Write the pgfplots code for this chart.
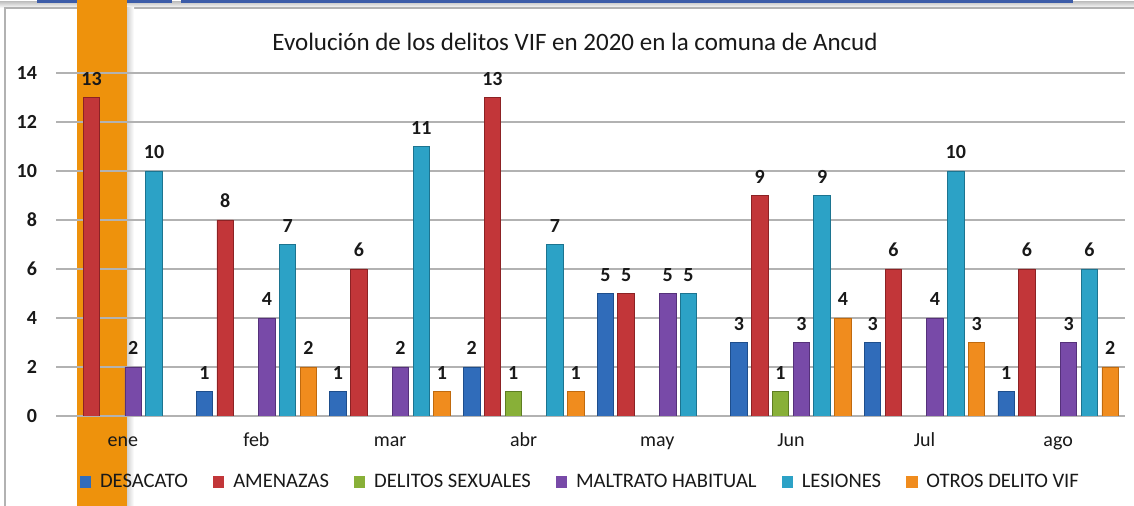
\documentclass[border=0pt]{standalone}
\usepackage{fontspec}
\setmainfont{Carlito}
\usepackage{pgfplots}
\pgfplotsset{compat=1.18}
\definecolor{desM}{RGB}{48,108,186}\definecolor{desE}{RGB}{30,78,140}
\definecolor{ameM}{RGB}{194,54,57}\definecolor{ameE}{RGB}{140,34,36}
\definecolor{dsM}{RGB}{136,176,56}\definecolor{dsE}{RGB}{94,126,34}
\definecolor{malM}{RGB}{120,74,168}\definecolor{malE}{RGB}{85,49,122}
\definecolor{lesM}{RGB}{44,162,198}\definecolor{lesE}{RGB}{28,116,144}
\definecolor{otrM}{RGB}{240,140,30}\definecolor{otrE}{RGB}{192,106,14}
\definecolor{band}{RGB}{238,146,12}
\definecolor{strip}{RGB}{60,92,168}
\pgfplotsset{
  mybar/.style n args={2}{draw=#2, line width=0.4pt, fill=#1,
    legend image code/.code={\fill[#1] (0pt,-2.6pt) rectangle (5.2pt,2.6pt);}},
}
\begin{document}
\begin{tikzpicture}
\path[use as bounding box] (0,0) rectangle (567pt,253pt);
\fill[white] (0,0) rectangle (567pt,253pt);
\shade[top color=gray!45, bottom color=white] (0,249pt) rectangle (567pt,252pt);
\draw[gray!60, line width=0.6pt] (2.5pt,-5pt) -- (2.5pt,249pt) -- (570pt,249pt);
\fill[strip] (18.5pt,251.5pt) rectangle (86pt,253pt);
\fill[strip] (90.5pt,251.5pt) rectangle (536.5pt,253pt);
\fill[band] (38.5pt,0) rectangle (63.5pt,253pt);
\shade[left color=gray!35, right color=white] (63.5pt,0) rectangle (67pt,249pt);
\node[font=\fontsize{12.5}{14}\selectfont, text=black!90] at (287.5pt,232pt) {Evolución de los delitos VIF en 2020 en la comuna de Ancud};
\begin{axis}[
  at={(28pt,45pt)}, anchor=south west, scale only axis,
  width=534.5pt, height=171.5pt,
  xmin=-0.5, xmax=7.5, ymin=0, ymax=14,
  ybar=2.15pt, bar width=8.25pt,
  xtick={0,...,7}, xticklabels={ene,feb,mar,abr,may,Jun,Jul,ago},
  ytick={0,2,...,14},
  ymajorgrids, major grid style={draw=gray!60, line width=0.7pt},
  axis line style={draw=none}, major tick length=0pt,
  tick label style={font=\fontsize{10}{12}\selectfont, text=black!90},
  yticklabel style={font=\bfseries\fontsize{10}{12}\selectfont, xshift=-6pt},
  xticklabel style={anchor=base, yshift=-15.5pt},
  /pgf/number format/assume math mode=true,
  nodes near coords,
  nodes near coords style={font=\bfseries\fontsize{10}{12}\selectfont, text=black!90, yshift=2.5pt},
  legend columns=6,
  legend style={at={(0.4915,-0.1924)}, anchor=center, draw=none, fill=none,
    font=\fontsize{10.3}{12}\selectfont, text=black!90,
    /tikz/every odd column/.append style={column sep=2.5pt},
    /tikz/every even column/.append style={column sep=10.5pt}},
]
\addplot[mybar={desM}{desE}] coordinates {(1,1) (2,1) (3,2) (4,5) (5,3) (6,3) (7,1)};
\addplot[mybar={ameM}{ameE}] coordinates {(0,13) (1,8) (2,6) (3,13) (4,5) (5,9) (6,6) (7,6)};
\addplot[mybar={dsM}{dsE}] coordinates {(3,1) (5,1)};
\addplot[mybar={malM}{malE}] coordinates {(0,2) (1,4) (2,2) (4,5) (5,3) (6,4) (7,3)};
\addplot[mybar={lesM}{lesE}] coordinates {(0,10) (1,7) (2,11) (3,7) (4,5) (5,9) (6,10) (7,6)};
\addplot[mybar={otrM}{otrE}] coordinates {(1,2) (2,1) (3,1) (5,4) (6,3) (7,2)};
\legend{DESACATO, AMENAZAS, DELITOS SEXUALES, MALTRATO HABITUAL, LESIONES, OTROS DELITO VIF}
\end{axis}
\end{tikzpicture}
\end{document}
